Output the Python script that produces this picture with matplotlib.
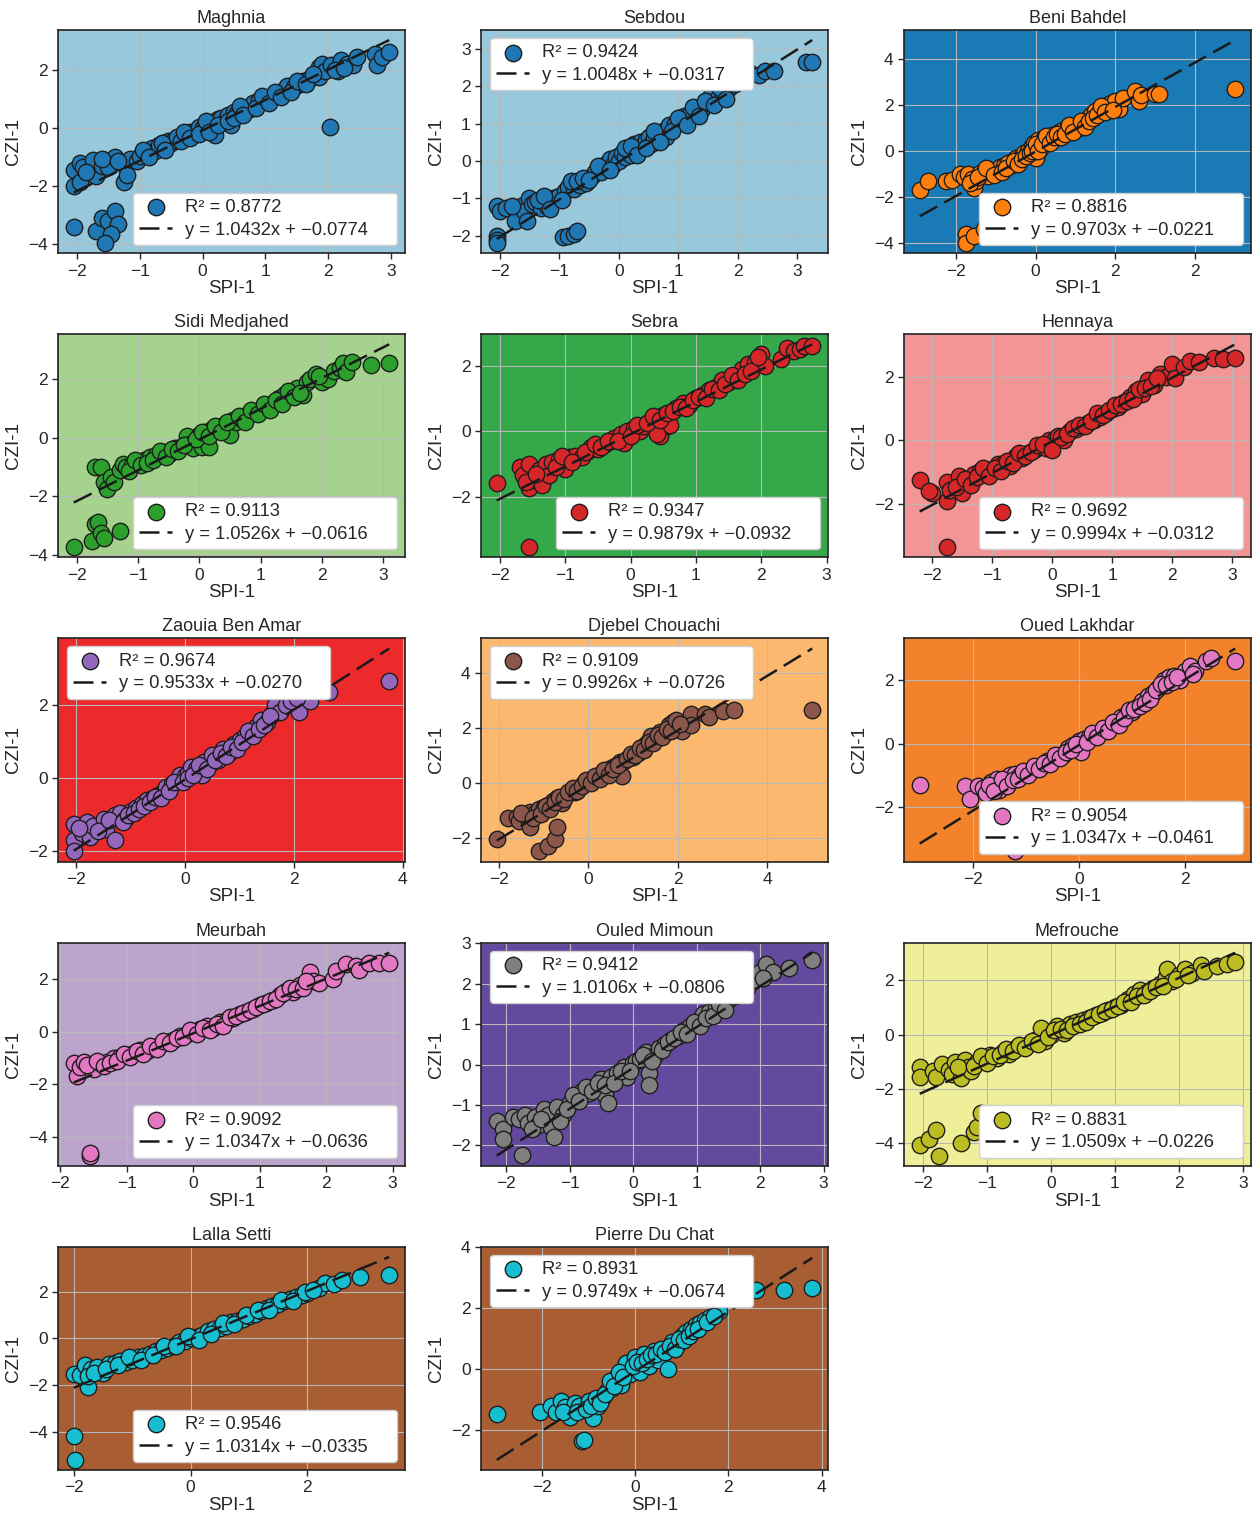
import numpy as np
import matplotlib
matplotlib.use("Agg")
import matplotlib.pyplot as plt

plt.rcParams["font.family"] = ["Liberation Sans", "DejaVu Sans"]
plt.rcParams["text.color"] = ".15"
plt.rcParams["axes.labelcolor"] = ".15"
plt.rcParams["xtick.color"] = ".15"
plt.rcParams["ytick.color"] = ".15"

# (SPI-1, CZI-1) pairs
maghnia = [(-2.05, -1.45), (-2.05, -2.0), (-1.95, -1.85), (-1.95, -1.2), (-1.9, -1.35), (-1.75, -1.1),
           (-1.7, -1.65), (-1.6, -1.3), (-1.55, -1.1), (-1.5, -1.35), (-1.4, -1.0), (-1.3, -1.2),
           (-1.25, -1.85), (-1.2, -1.6), (-1.15, -1.05), (-1.05, -1.15), (-1.0, -0.95),
           (-2.05, -3.4), (-1.7, -3.55), (-1.6, -3.1), (-1.5, -3.2), (-1.4, -2.85), (-1.35, -3.3),
           (-1.45, -3.65), (-1.55, -3.95), (2.02, 0.03),
           (-0.9, -0.85), (-0.8, -0.7), (-0.75, -0.8), (-0.7, -0.6), (-0.6, -0.6), (-0.55, -0.45),
           (-0.5, -0.5), (-0.45, -0.4), (-0.4, -0.3), (-0.3, -0.35), (-0.25, -0.2), (-0.2, -0.15),
           (-0.15, -0.25), (-0.1, -0.1), (-0.05, 0.05), (0.0, 0.0), (0.05, 0.1), (0.1, 0.05),
           (0.15, 0.2), (0.2, -0.25), (0.25, 0.3), (0.3, 0.35), (0.35, 0.2), (0.4, 0.45), (0.45, 0.1),
           (0.5, 0.55), (0.55, 0.5), (0.6, 0.6), (0.7, 0.7), (0.75, 0.65), (0.8, 0.85), (0.9, 0.95),
           (1.0, 0.95), (1.1, 1.05), (1.2, 1.2), (1.3, 1.3), (1.35, 1.45), (1.45, 1.4), (1.55, 1.5),
           (1.6, 1.6), (1.7, 1.7), (1.85, 2.1), (1.9, 2.2), (1.85, 1.75), (1.95, 1.95), (2.05, 2.15),
           (2.15, 1.95), (2.2, 2.35), (2.3, 2.2), (2.4, 2.15), (2.45, 2.45), (2.75, 2.55), (2.78, 2.15),
           (2.85, 2.45), (2.97, 2.6),
           (-0.95, -0.75), (-0.85, -1.0), (-0.65, -0.5), (-0.6, -0.75), (-0.35, -0.45), (-0.3, -0.15),
           (-0.2, -0.35), (-0.05, -0.2), (0.05, 0.25), (0.1, -0.15), (0.25, 0.1), (0.4, 0.25),
           (0.5, 0.35), (0.6, 0.75), (0.65, 0.45), (0.85, 0.7), (0.95, 1.1), (1.05, 0.85), (1.15, 1.25),
           (1.25, 1.05), (1.4, 1.25), (1.5, 1.6), (1.65, 1.5), (1.75, 1.85), (2.1, 2.0), (2.25, 2.05),
           (-1.6, -1.05), (-1.85, -1.5), (-1.35, -1.15)]

sebdou = [(-2.05, -1.2), (-2.0, -1.35), (-1.9, -1.25), (-1.75, -1.3), (-1.75, -1.6), (-1.65, -1.2),
          (-1.6, -1.35), (-1.55, -1.6), (-1.5, -1.0), (-1.45, -1.15), (-1.4, -1.1), (-1.3, -1.25),
          (-1.2, -1.2), (-1.1, -1.0), (-1.0, -0.95), (-0.9, -0.8), (-0.85, -0.7), (-0.75, -0.75),
          (-0.65, -0.65), (-0.55, -0.6), (-2.05, -2.0), (-2.05, -2.12), (-2.05, -2.2), (-0.93, -2.05),
          (-0.85, -2.0), (-0.75, -1.95), (-0.7, -1.88), (-0.45, -0.4), (-0.4, -0.3), (-0.3, -0.3),
          (-0.25, -0.15), (-0.2, -0.05), (-0.15, 0.05), (-0.1, -0.1), (-0.05, 0.1), (0.0, 0.0),
          (0.05, 0.2), (0.1, 0.1), (0.15, 0.3), (0.2, 0.15), (0.25, 0.45), (0.3, 0.3), (0.35, 0.5),
          (0.4, 0.4), (0.45, 0.55), (0.5, 0.65), (0.55, 0.45), (0.6, 0.6), (0.7, 0.7), (0.75, 0.8),
          (0.8, 0.65), (0.85, 0.95), (0.95, 1.0), (1.05, 1.05), (1.1, 1.2), (1.2, 1.25), (1.3, 1.35),
          (1.4, 1.4), (1.5, 1.55), (1.55, 1.75), (1.65, 1.65), (1.75, 1.8), (1.85, 1.95), (1.95, 2.05),
          (2.1, 2.2), (2.2, 2.35), (2.35, 2.3), (2.45, 2.4), (2.6, 2.4), (3.15, 2.65), (3.25, 2.65),
          (-1.35, -1.05), (-1.25, -0.95), (-1.15, -1.3), (-0.95, -1.05), (-0.8, -0.55), (-0.7, -0.55),
          (-0.6, -0.45), (-0.5, -0.5), (-0.35, -0.15), (-0.15, -0.25), (0.1, 0.35), (0.2, 0.4),
          (0.3, 0.15), (0.45, 0.35), (0.6, 0.8), (0.7, 0.5), (0.9, 0.8), (1.0, 1.15), (1.15, 0.95),
          (1.25, 1.45), (1.35, 1.2), (1.45, 1.6), (1.6, 1.5), (1.7, 1.95), (1.8, 1.65), (-1.8, -1.2)]

beni_bahdel = [(-2.9, -1.7), (-2.7, -1.3), (-2.25, -1.3), (-2.1, -1.25), (-1.9, -1.0), (-1.8, -1.15),
               (-1.7, -1.0), (-1.6, -1.2), (-1.55, -1.6), (-1.5, -1.3), (-1.4, -0.95), (-1.3, -0.9),
               (-1.2, -1.1), (-1.1, -0.85), (-1.0, -0.9), (-0.9, -0.7), (-0.8, -0.65), (-0.7, -0.5),
               (-0.6, -0.6), (-0.5, -0.3), (-0.4, -0.3), (-0.3, -0.1), (-0.2, 0.0), (-0.1, 0.2),
               (-0.05, 0.35), (0.0, -0.3), (0.05, 0.5), (0.1, 0.1), (0.2, 0.55), (0.3, 0.45), (0.4, 0.7),
               (0.5, 0.55), (0.6, 0.85), (0.7, 0.9), (0.8, 0.95), (0.9, 1.05), (1.0, 1.1), (1.1, 1.0),
               (1.2, 1.25), (1.3, 1.4), (1.4, 1.55), (1.5, 1.75), (1.6, 1.65), (1.7, 1.85), (1.8, 2.0),
               (1.9, 2.1), (2.0, 2.2), (2.1, 1.85), (2.2, 2.3), (2.5, 2.6), (2.6, 2.2), (2.65, 2.45),
               (3.0, 2.5), (3.1, 2.5), (5.0, 2.7), (-1.75, -3.6), (-1.75, -4.0), (-1.55, -3.7),
               (-1.3, -3.4), (-1.0, -3.2),
               (-1.65, -1.4), (-1.45, -1.15), (-1.25, -0.75), (-1.05, -1.05), (-0.85, -0.9), (-0.75, -0.75),
               (-0.55, -0.45), (-0.45, -0.55), (-0.35, -0.35), (-0.25, -0.2), (-0.15, -0.1), (-0.1, 0.0),
               (0.0, 0.3), (0.05, 0.0), (0.15, 0.3), (0.25, 0.65), (0.35, 0.35), (0.45, 0.6), (0.55, 0.75),
               (0.65, 0.6), (0.75, 0.75), (0.85, 1.15), (0.95, 0.85), (1.15, 1.3), (1.25, 1.05),
               (1.35, 1.3), (1.45, 1.45), (1.55, 1.55), (1.65, 1.95), (1.75, 1.7), (1.95, 1.8)]

sidi_medjahed = [(-1.7, -1.0), (-1.6, -1.0), (-1.55, -1.5), (-1.5, -1.75), (-1.45, -1.35), (-1.4, -1.5),
                 (-1.3, -1.1), (-1.25, -0.9), (-1.2, -1.0), (-1.1, -0.95), (-1.0, -0.85), (-0.9, -0.75),
                 (-0.8, -0.65), (-0.7, -0.6), (-0.6, -0.5), (-0.5, -0.55), (-0.4, -0.35), (-0.3, -0.3),
                 (-0.2, 0.05), (-0.15, -0.2), (-0.1, -0.35), (0.0, 0.1), (0.05, -0.3), (0.1, 0.2),
                 (0.15, -0.3), (0.2, 0.3), (0.3, 0.35), (0.4, 0.45), (0.5, 0.1), (0.55, 0.6), (0.6, 0.55),
                 (0.7, 0.65), (0.8, 0.8), (0.9, 0.85), (1.0, 1.0), (1.1, 1.1), (1.2, 1.2), (1.3, 1.35),
                 (1.4, 1.5), (1.5, 1.55), (1.6, 1.7), (1.7, 1.45), (1.75, 1.9), (1.8, 2.0), (1.9, 2.2),
                 (2.0, 1.9), (2.1, 2.0), (2.2, 2.3), (2.3, 2.4), (2.35, 2.55), (2.4, 2.25), (2.5, 2.6),
                 (2.8, 2.5), (3.1, 2.55), (-2.05, -3.75), (-1.75, -3.55), (-1.7, -2.95), (-1.65, -2.9),
                 (-1.6, -3.25), (-1.55, -3.45), (-1.3, -3.2),
                 (-1.15, -1.15), (-1.05, -0.75), (-0.95, -0.95), (-0.85, -0.85), (-0.75, -0.75),
                 (-0.65, -0.45), (-0.55, -0.65), (-0.45, -0.4), (-0.35, -0.45), (-0.25, -0.25),
                 (-0.05, -0.05), (0.05, 0.2), (0.15, 0.05), (0.25, 0.4), (0.35, 0.2), (0.45, 0.55),
                 (0.65, 0.75), (0.75, 0.55), (0.85, 0.95), (0.95, 0.8), (1.05, 1.15), (1.15, 0.95),
                 (1.25, 1.3), (1.35, 1.15), (1.45, 1.6), (1.55, 1.4), (1.65, 1.55), (1.95, 2.1)]

sebra = [(-2.05, -1.6), (-1.55, -3.55), (-1.7, -1.1), (-1.65, -1.35), (-1.55, -1.0), (-1.55, -1.75),
         (-1.5, -1.5), (-1.4, -1.2), (-1.35, -1.65), (-1.3, -1.0), (-1.25, -1.35), (-1.2, -0.95),
         (-1.1, -0.85), (-1.0, -1.15), (-0.95, -0.8), (-0.85, -0.75), (-0.75, -0.8), (-0.65, -0.6),
         (-0.6, -0.5), (-0.5, -0.55), (-0.4, -0.4), (-0.3, -0.3), (-0.25, -0.2), (-0.15, -0.1),
         (-0.1, -0.35), (-0.05, 0.0), (0.05, 0.1), (0.1, 0.05), (0.15, 0.0), (0.2, 0.15), (0.3, 0.3),
         (0.4, 0.4), (0.45, -0.15), (0.5, 0.5), (0.55, 0.15), (0.6, 0.2), (0.7, 0.7), (0.8, 0.85),
         (0.9, 0.8), (1.0, 1.0), (1.1, 1.1), (1.2, 1.25), (1.3, 1.35), (1.4, 1.55), (1.5, 1.5),
         (1.6, 1.65), (1.7, 1.9), (1.8, 2.05), (1.9, 2.1), (2.0, 2.35), (2.05, 2.0), (2.3, 2.2),
         (2.4, 2.55), (2.5, 2.45), (2.6, 2.5), (2.65, 2.6), (2.78, 2.6), (0.4, -0.1),
         (-1.6, -1.55), (-1.45, -1.3), (-1.15, -1.1), (-1.05, -0.75), (-0.9, -0.95), (-0.7, -0.65),
         (-0.55, -0.4), (-0.45, -0.5), (-0.35, -0.3), (-0.2, -0.3), (0.0, -0.15), (0.1, 0.2),
         (0.25, 0.25), (0.35, 0.45), (0.45, 0.35), (0.55, 0.55), (0.65, 0.6), (0.75, 0.75),
         (0.85, 0.7), (0.95, 0.95), (1.05, 1.05), (1.15, 1.0), (1.25, 1.3), (1.35, 1.25),
         (1.45, 1.45), (1.55, 1.7), (1.65, 1.55), (1.75, 1.75), (1.85, 1.85), (1.95, 2.25)]

hennaya = [(-2.2, -1.25), (-2.0, -1.65), (-2.05, -1.6), (-1.75, -1.3), (-1.75, -1.9), (-1.7, -1.55),
           (-1.55, -1.1), (-1.5, -1.65), (-1.4, -1.3), (-1.3, -1.05), (-1.2, -0.95), (-1.1, -1.0),
           (-1.0, -0.9), (-0.9, -0.75), (-0.8, -0.7), (-0.7, -0.8), (-0.6, -0.5), (-0.5, -0.55),
           (-0.4, -0.4), (-0.3, -0.3), (-0.2, -0.2), (-0.1, -0.25), (-0.05, 0.0), (0.05, 0.05),
           (0.1, 0.15), (0.2, 0.0), (0.3, 0.3), (0.4, 0.35), (0.5, 0.45), (0.6, 0.55), (0.7, 0.65),
           (0.8, 0.75), (0.9, 0.85), (1.0, 1.0), (1.1, 1.05), (1.2, 1.2), (1.3, 1.35), (1.4, 1.55),
           (1.5, 1.45), (1.6, 1.9), (1.7, 1.75), (1.8, 2.1), (1.9, 2.0), (2.0, 2.4), (2.05, 1.95),
           (2.2, 2.3), (2.3, 2.5), (2.45, 2.45), (2.7, 2.6), (2.85, 2.55), (3.05, 2.6), (-1.75, -3.35),
           (-1.6, -1.45), (-1.45, -1.2), (-1.35, -1.4), (-1.25, -1.15), (-1.15, -0.85), (-1.05, -1.1),
           (-0.95, -0.85), (-0.85, -0.95), (-0.75, -0.65), (-0.65, -0.7), (-0.55, -0.4), (-0.45, -0.5),
           (-0.35, -0.35), (-0.25, -0.15), (-0.15, -0.1), (0.0, -0.3), (0.15, 0.1), (0.25, 0.2),
           (0.35, 0.4), (0.45, 0.5), (0.55, 0.45), (0.65, 0.6), (0.75, 0.85), (0.85, 0.8),
           (0.95, 0.95), (1.05, 1.1), (1.15, 1.15), (1.25, 1.25), (1.35, 1.3), (1.45, 1.6),
           (1.55, 1.65), (1.65, 1.7), (1.75, 1.95)]

zaouia_ben_amar = [(-2.05, -1.25), (-2.05, -1.7), (-2.05, -2.0), (-1.9, -1.5), (-1.8, -1.2), (-1.75, -1.6),
                   (-1.7, -1.3), (-1.5, -1.1), (-1.45, -1.4), (-1.3, -1.0), (-1.3, -1.7), (-1.2, -0.95),
                   (-1.1, -1.1), (-1.0, -0.9), (-0.9, -0.8), (-0.8, -0.7), (-0.7, -0.6), (-0.6, -0.55),
                   (-0.5, -0.45), (-0.4, -0.35), (-0.35, -0.25), (-0.25, -0.15), (-0.15, -0.05),
                   (-0.1, 0.1), (0.0, 0.05), (0.05, 0.15), (0.1, 0.3), (0.2, 0.25), (0.3, 0.1),
                   (0.35, 0.45), (0.45, 0.4), (0.5, 0.65), (0.6, 0.5), (0.7, 0.8), (0.8, 0.7), (0.9, 0.95),
                   (1.0, 1.05), (1.1, 1.15), (1.2, 1.2), (1.3, 1.4), (1.4, 1.6), (1.5, 1.55), (1.6, 1.75),
                   (1.65, 2.0), (1.75, 1.8), (1.85, 2.0), (2.1, 1.8), (2.3, 2.1), (2.65, 2.35), (3.75, 2.65),
                   (-1.95, -1.35), (-1.6, -1.45), (-1.4, -1.15), (-1.15, -1.2), (-1.05, -1.0),
                   (-0.95, -0.95), (-0.85, -0.85), (-0.75, -0.75), (-0.65, -0.65), (-0.55, -0.5),
                   (-0.45, -0.55), (-0.3, -0.35), (-0.2, -0.1), (-0.05, -0.1), (0.05, 0.0), (0.15, 0.1),
                   (0.25, 0.35), (0.4, 0.25), (0.55, 0.5), (0.65, 0.7), (0.75, 0.6), (0.85, 0.85),
                   (0.95, 0.8), (1.05, 1.0), (1.15, 1.3), (1.25, 1.15), (1.35, 1.35), (1.45, 1.45),
                   (1.55, 1.7), (1.95, 2.1), (2.05, 2.2)]

djebel_chouachi = [(-2.05, -2.05), (-1.8, -1.3), (-1.6, -1.25), (-1.55, -1.4), (-1.4, -1.2), (-1.3, -1.05),
                   (-1.3, -1.6), (-1.2, -1.1), (-1.1, -0.95), (-1.0, -0.9), (-0.9, -0.8), (-0.8, -0.65),
                   (-0.7, -0.55), (-0.6, -0.75), (-0.5, -0.45), (-0.4, -0.3), (-0.3, -0.35), (-0.2, -0.15),
                   (-0.1, 0.0), (0.0, 0.05), (0.1, 0.1), (0.2, 0.2), (0.3, 0.35), (0.4, 0.4), (0.5, 0.55),
                   (0.6, 0.6), (0.7, 0.75), (0.75, 0.25), (0.8, 0.8), (0.9, 0.9), (1.0, 0.95), (1.1, 1.1),
                   (1.2, 1.3), (1.3, 1.45), (1.4, 1.7), (1.5, 1.6), (1.6, 1.85), (1.7, 1.8), (1.8, 2.1),
                   (1.9, 2.2), (2.0, 2.0), (2.1, 1.9), (2.3, 2.5), (2.3, 2.1), (2.6, 2.5), (2.7, 2.4),
                   (3.0, 2.6), (3.25, 2.65), (5.0, 2.65), (-1.1, -2.5), (-0.9, -2.3), (-0.75, -2.05),
                   (-0.7, -1.6),
                   (-1.5, -1.1), (-1.25, -1.3), (-1.05, -1.15), (-0.95, -0.85), (-0.85, -0.95),
                   (-0.75, -0.7), (-0.65, -0.5), (-0.55, -0.6), (-0.45, -0.35), (-0.35, -0.2),
                   (-0.25, -0.3), (-0.15, -0.1), (-0.05, 0.1), (0.05, 0.0), (0.15, 0.25), (0.25, 0.15),
                   (0.35, 0.45), (0.45, 0.3), (0.55, 0.5), (0.65, 0.65), (0.85, 0.85), (0.95, 1.05),
                   (1.05, 1.0), (1.15, 1.25), (1.25, 1.2), (1.35, 1.5), (1.45, 1.45), (1.55, 1.75),
                   (1.65, 1.65), (1.75, 1.95), (1.85, 1.9), (1.95, 2.3), (2.05, 2.15)]

oued_lakhdar = [(-3.0, -1.3), (-2.15, -1.35), (-2.05, -1.75), (-1.9, -1.35), (-1.8, -1.4), (-1.75, -1.55),
                (-1.65, -1.2), (-1.55, -1.1), (-1.5, -1.45), (-1.4, -1.25), (-1.3, -1.0), (-1.2, -0.95),
                (-1.1, -1.0), (-1.0, -0.9), (-0.9, -0.85), (-0.8, -0.75), (-0.7, -0.7), (-0.6, -0.55),
                (-0.5, -0.5), (-0.4, -0.4), (-0.3, -0.35), (-0.2, -0.15), (-0.1, -0.05), (0.0, 0.1),
                (0.05, -0.25), (0.1, 0.15), (0.2, 0.2), (0.3, 0.3), (0.4, 0.35), (0.5, 0.45), (0.6, 0.55),
                (0.7, 0.65), (0.8, 0.85), (0.9, 0.9), (1.0, 1.0), (1.1, 1.15), (1.2, 1.35), (1.3, 1.5),
                (1.4, 1.6), (1.5, 1.75), (1.6, 2.0), (1.7, 2.1), (1.8, 2.15), (1.9, 2.0), (2.0, 2.3),
                (2.1, 2.45), (2.2, 2.3), (2.4, 2.6), (2.5, 2.7), (2.95, 2.6), (-1.2, -3.4),
                (-1.7, -1.3), (-1.6, -1.5), (-1.45, -1.1), (-1.35, -1.35), (-1.25, -1.15), (-1.15, -1.1),
                (-1.05, -0.85), (-0.95, -1.0), (-0.85, -0.7), (-0.75, -0.8), (-0.65, -0.6), (-0.55, -0.65),
                (-0.45, -0.35), (-0.35, -0.45), (-0.25, -0.25), (-0.15, -0.2), (-0.05, 0.0), (0.15, 0.05),
                (0.25, 0.35), (0.35, 0.2), (0.45, 0.5), (0.55, 0.4), (0.65, 0.7), (0.75, 0.6),
                (0.85, 0.8), (0.95, 1.05), (1.05, 1.1), (1.15, 1.2), (1.25, 1.3), (1.35, 1.4),
                (1.45, 1.7), (1.55, 1.9), (1.65, 1.85), (1.75, 1.95), (1.85, 2.1), (2.15, 2.2)]

meurbah = [(-1.8, -1.2), (-1.75, -1.7), (-1.7, -1.35), (-1.65, -1.15), (-1.5, -1.4), (-1.4, -1.2),
           (-1.3, -1.15), (-1.2, -1.0), (-1.1, -0.95), (-1.0, -0.9), (-0.9, -0.8), (-0.8, -0.7),
           (-0.7, -0.75), (-0.6, -0.6), (-0.5, -0.5), (-0.4, -0.4), (-0.3, -0.3), (-0.2, -0.15),
           (-0.1, -0.1), (0.0, 0.0), (0.1, 0.1), (0.2, 0.2), (0.3, 0.15), (0.4, 0.35), (0.5, 0.45),
           (0.6, 0.5), (0.7, 0.65), (0.8, 0.75), (0.9, 0.85), (1.0, 1.0), (1.1, 1.1), (1.2, 1.2),
           (1.3, 1.4), (1.4, 1.55), (1.5, 1.5), (1.6, 1.75), (1.75, 2.25), (1.8, 1.9), (1.9, 1.85),
           (2.1, 2.0), (2.15, 2.3), (2.3, 2.55), (2.45, 2.5), (2.5, 2.35), (2.65, 2.6), (2.8, 2.6),
           (2.95, 2.6), (-1.55, -4.7), (-1.55, -4.6),
           (-1.6, -1.25), (-1.45, -1.1), (-1.35, -1.3), (-1.25, -1.2), (-1.15, -1.1), (-1.05, -0.85),
           (-0.95, -0.95), (-0.85, -0.75), (-0.75, -0.85), (-0.65, -0.55), (-0.55, -0.65),
           (-0.45, -0.35), (-0.35, -0.45), (-0.25, -0.25), (-0.15, -0.2), (-0.05, 0.05), (0.05, -0.1),
           (0.15, 0.15), (0.25, 0.05), (0.35, 0.3), (0.45, 0.2), (0.55, 0.55), (0.65, 0.6),
           (0.75, 0.7), (0.85, 0.8), (0.95, 0.95), (1.05, 1.05), (1.15, 1.15), (1.25, 1.25),
           (1.35, 1.45), (1.45, 1.65), (1.55, 1.6), (1.65, 1.65), (1.7, 1.9)]

ouled_mimoun = [(-2.15, -1.4), (-2.05, -1.6), (-2.05, -1.85), (-1.9, -1.3), (-1.8, -1.35), (-1.7, -1.25),
                (-1.65, -1.45), (-1.55, -1.3), (-1.5, -1.5), (-1.4, -1.1), (-1.35, -1.25), (-1.3, -1.55),
                (-1.25, -1.8), (-1.2, -1.05), (-1.1, -1.25), (-1.0, -0.95), (-0.9, -0.85), (-0.8, -0.65),
                (-0.7, -0.7), (-0.6, -0.55), (-0.5, -0.35), (-0.45, -0.75), (-0.4, -0.95), (-0.35, -0.3),
                (-0.25, -0.2), (-0.15, -0.05), (-0.1, -0.3), (0.0, 0.05), (0.05, 0.1), (0.1, 0.15),
                (0.2, 0.3), (0.25, -0.2), (0.25, -0.5), (0.35, 0.25), (0.4, 0.4), (0.5, 0.5), (0.6, 0.6),
                (0.7, 0.7), (0.8, 0.85), (0.9, 0.95), (1.0, 1.0), (1.1, 1.25), (1.2, 1.3), (1.3, 1.4),
                (1.4, 1.5), (1.5, 1.6), (1.6, 1.7), (1.8, 1.9), (1.9, 2.1), (2.0, 2.3), (2.1, 2.5),
                (2.2, 2.3), (2.45, 2.4), (2.82, 2.6), (-1.75, -2.25),
                (-1.6, -1.6), (-1.45, -1.35), (-1.15, -1.4), (-1.05, -1.1), (-0.95, -0.75),
                (-0.85, -0.9), (-0.75, -0.55), (-0.65, -0.65), (-0.55, -0.45), (-0.45, -0.5),
                (-0.3, -0.45), (-0.2, -0.15), (-0.05, -0.15), (0.15, 0.25), (0.3, 0.1), (0.45, 0.35),
                (0.55, 0.55), (0.65, 0.65), (0.75, 0.8), (0.85, 0.75), (0.95, 1.05), (1.05, 0.95),
                (1.15, 1.15), (1.25, 1.2), (1.35, 1.5), (1.45, 1.35), (1.55, 1.7), (1.7, 1.8),
                (2.05, 2.15)]

mefrouche = [(-2.05, -1.2), (-2.05, -1.55), (-1.85, -1.35), (-1.8, -1.55), (-1.7, -1.1), (-1.6, -1.3),
             (-1.55, -1.45), (-1.5, -1.0), (-1.4, -1.6), (-1.35, -0.95), (-1.3, -1.2), (-1.25, -1.35),
             (-1.15, -1.0), (-1.05, -0.9), (-0.95, -0.75), (-0.85, -0.85), (-0.75, -0.65), (-0.65, -0.7),
             (-0.55, -0.5), (-0.45, -0.45), (-0.35, -0.35), (-0.25, -0.2), (-0.15, 0.25), (-0.1, -0.25),
             (0.0, 0.0), (0.1, 0.3), (0.2, 0.05), (0.3, 0.4), (0.4, 0.45), (0.5, 0.55), (0.6, 0.6),
             (0.7, 0.7), (0.8, 0.8), (0.9, 0.9), (1.0, 1.0), (1.1, 1.1), (1.2, 1.3), (1.3, 1.5),
             (1.4, 1.65), (1.5, 1.55), (1.6, 1.7), (1.7, 1.85), (1.8, 2.1), (1.82, 2.4), (1.9, 1.95),
             (2.0, 2.2), (2.1, 2.4), (2.2, 2.25), (2.35, 2.55), (2.4, 2.35), (2.6, 2.5), (2.75, 2.6),
             (2.88, 2.65), (-2.05, -4.05), (-1.9, -3.85), (-1.8, -3.5), (-1.75, -4.45), (-1.4, -4.0),
             (-1.2, -3.6), (-1.15, -3.4), (-1.1, -2.9),
             (-1.45, -1.2), (-1.2, -1.15), (-1.1, -0.8), (-1.0, -1.05), (-0.9, -0.8), (-0.8, -0.75),
             (-0.7, -0.55), (-0.6, -0.6), (-0.5, -0.4), (-0.4, -0.5), (-0.3, -0.25), (-0.2, -0.35),
             (-0.05, -0.1), (0.05, 0.15), (0.15, 0.2), (0.25, 0.15), (0.35, 0.3), (0.45, 0.4),
             (0.55, 0.45), (0.65, 0.65), (0.75, 0.75), (0.85, 0.85), (0.95, 0.95), (1.05, 1.05),
             (1.15, 1.2), (1.25, 1.2), (1.35, 1.4), (1.45, 1.45), (1.55, 1.6), (1.65, 1.75),
             (1.75, 1.8), (1.95, 2.05), (2.15, 2.2)]

lalla_setti = [(-2.0, -1.5), (-2.0, -4.15), (-1.98, -5.17), (-1.9, -1.55), (-1.8, -1.15), (-1.75, -2.05),
               (-1.7, -1.3), (-1.6, -1.2), (-1.5, -1.45), (-1.4, -1.1), (-1.3, -1.05), (-1.2, -0.95),
               (-1.1, -1.0), (-1.0, -0.9), (-0.9, -0.8), (-0.8, -0.75), (-0.7, -0.65), (-0.6, -0.55),
               (-0.5, -0.5), (-0.4, -0.4), (-0.3, -0.3), (-0.2, -0.15), (-0.1, -0.1), (0.0, 0.0),
               (0.1, 0.05), (0.2, 0.15), (0.3, 0.3), (0.4, 0.4), (0.5, 0.45), (0.6, 0.55), (0.7, 0.7),
               (0.8, 0.75), (0.9, 0.85), (1.0, 0.95), (1.1, 1.05), (1.2, 1.15), (1.3, 1.3), (1.4, 1.4),
               (1.5, 1.45), (1.6, 1.6), (1.7, 1.7), (1.8, 1.75), (1.9, 1.85), (2.0, 1.95), (2.2, 2.15),
               (2.3, 2.35), (2.45, 2.3), (2.6, 2.5), (2.9, 2.6), (3.4, 2.7),
               (-1.75, -1.6), (-1.65, -1.45), (-1.45, -1.3), (-1.25, -1.15), (-1.05, -0.8),
               (-0.85, -0.9), (-0.65, -0.7), (-0.45, -0.3), (-0.25, -0.3), (-0.05, 0.1), (0.15, -0.05),
               (0.35, 0.2), (0.55, 0.65), (0.75, 0.6), (0.95, 1.0), (1.15, 1.2), (1.35, 1.2),
               (1.55, 1.65), (1.75, 1.6), (1.95, 2.0), (2.1, 2.05)]

pierre_du_chat = [(-2.97, -1.45), (-2.05, -1.4), (-1.8, -1.2), (-1.7, -1.4), (-1.6, -1.05), (-1.5, -1.25),
                  (-1.4, -1.55), (-1.3, -1.1), (-1.2, -1.2), (-1.15, -2.35), (-1.1, -2.3), (-1.0, -1.05),
                  (-0.9, -1.6), (-0.8, -1.2), (-0.7, -0.9), (-0.6, -0.7), (-0.5, -0.6), (-0.4, -0.3),
                  (-0.3, -0.5), (-0.2, 0.2), (-0.1, -0.15), (0.0, 0.4), (0.1, -0.1), (0.2, 0.5), (0.3, 0.1),
                  (0.4, 0.6), (0.5, 0.3), (0.6, 0.6), (0.7, 0.0), (0.8, 0.9), (0.9, 0.8), (1.0, 1.1),
                  (1.1, 1.2), (1.2, 1.3), (1.3, 1.45), (1.4, 1.5), (1.5, 1.6), (1.6, 1.7), (1.8, 1.9),
                  (2.6, 2.6), (3.2, 2.6), (3.8, 2.65),
                  (-1.55, -1.4), (-1.25, -1.4), (-1.05, -1.3), (-0.95, -1.2), (-0.85, -0.95),
                  (-0.75, -1.1), (-0.65, -0.8), (-0.55, -0.4), (-0.45, -0.55), (-0.35, -0.1),
                  (-0.25, -0.25), (-0.05, 0.1), (0.05, 0.25), (0.15, 0.2), (0.25, 0.35), (0.35, 0.45),
                  (0.45, 0.5), (0.55, 0.65), (0.65, 0.55), (0.75, 0.75), (0.85, 0.65), (0.95, 1.0),
                  (1.05, 0.95), (1.15, 1.1), (1.25, 1.25), (1.35, 1.3), (1.55, 1.55), (1.7, 1.75)]

stations = ["Maghnia", "Sebdou", "Beni Bahdel", "Sidi Medjahed", "Sebra", "Hennaya",
            "Zaouia Ben Amar", "Djebel Chouachi", "Oued Lakhdar", "Meurbah", "Ouled Mimoun",
            "Mefrouche", "Lalla Setti", "Pierre Du Chat"]
points = [maghnia, sebdou, beni_bahdel, sidi_medjahed, sebra, hennaya, zaouia_ben_amar,
          djebel_chouachi, oued_lakhdar, meurbah, ouled_mimoun, mefrouche, lalla_setti, pierre_du_chat]
r2 = [0.8772, 0.9424, 0.8816, 0.9113, 0.9347, 0.9692, 0.9674, 0.9109, 0.9054, 0.9092, 0.9412,
      0.8831, 0.9546, 0.8931]
slopes = [1.0432, 1.0048, 0.9703, 1.0526, 0.9879, 0.9994, 0.9533, 0.9926, 1.0347, 1.0347, 1.0106,
          1.0509, 1.0314, 0.9749]
intercepts = [-0.0774, -0.0317, -0.0221, -0.0616, -0.0932, -0.0312, -0.0270, -0.0726, -0.0461,
              -0.0636, -0.0806, -0.0226, -0.0335, -0.0674]

xticks = [[-2, -1, 0, 1, 2, 3], [-2, -1, 0, 1, 2, 3], [-2, 0, 2, 4], [-2, -1, 0, 1, 2, 3],
          [-2, -1, 0, 1, 2, 3], [-2, -1, 0, 1, 2, 3], [-2, 0, 2, 4], [-2, 0, 2, 4], [-2, 0, 2],
          [-2, -1, 0, 1, 2, 3], [-2, -1, 0, 1, 2, 3], [-2, -1, 0, 1, 2, 3], [-2, 0, 2], [-2, 0, 2, 4]]
yticks = [[-4, -2, 0, 2], [-2, -1, 0, 1, 2, 3], [-4, -2, 0, 2, 4], [-4, -2, 0, 2], [-2, 0, 2],
          [-2, 0, 2], [-2, 0, 2], [-2, 0, 2, 4], [-2, 0, 2], [-4, -2, 0, 2], [-2, -1, 0, 1, 2, 3],
          [-4, -2, 0, 2], [-4, -2, 0, 2], [-2, 0, 2, 4]]
legend_loc = ["lower right", "upper left", "lower right", "lower right", "lower right", "lower right",
              "upper left", "upper left", "lower right", "lower right", "upper left", "lower right",
              "lower right", "upper left"]

# panel backgrounds (Paired-like, as they appear) and dot colours (tab10-like)
bg_colors = ["#97c8dc", "#97c8dc", "#1a7ab5", "#a5d38e", "#35a84a", "#f39595", "#ec292b",
             "#fbb86e", "#f4822b", "#bca4cc", "#644a9e", "#f0ef99", "#a95d33", "#a95d33"]
dot_colors = plt.cm.tab10(np.linspace(0, 1, len(stations)))

fig, axes = plt.subplots(5, 3, figsize=(12.58, 15.2), dpi=100)
fig.subplots_adjust(left=0.0461, right=0.9944, bottom=0.0329, top=0.9803, wspace=0.219, hspace=0.363)

def fmt(v):
    return f"{v:.4f}".replace("-", "\u2212")

for i, ax in enumerate(axes.flat):
    if i >= len(stations):
        ax.axis("off")
        continue
    spi = np.array([p[0] for p in points[i]])
    czi = np.array([p[1] for p in points[i]])
    ax.set_facecolor(bg_colors[i])
    ax.grid(True, color="#b8b8b8", lw=0.8)
    ax.set_axisbelow(True)
    sc = ax.scatter(spi, czi, s=140, color=dot_colors[i], edgecolors="#1e1e1e", linewidths=1.0,
                    zorder=3, label=f"R\u00b2 = {r2[i]:.4f}")
    xs = np.array([spi.min(), spi.max()])
    ln, = ax.plot(xs, slopes[i] * xs + intercepts[i], color="#1a1a1a", lw=1.8, ls=(0, (8, 3.2)),
                  zorder=4, label=f"y = {slopes[i]:.4f}x + {fmt(intercepts[i])}")
    if legend_loc[i] == "lower right":
        anchor = (0.216, 0.036, 0.761, 0.3)
        loc = "lower left"
    else:
        anchor = (0.026, 0.664, 0.758, 0.3)
        loc = "upper left"
    ax.legend(handles=[sc, ln], loc=loc, bbox_to_anchor=anchor, mode="expand", borderaxespad=0,
              fontsize=13.2, framealpha=1, edgecolor="#d0d0d0", scatterpoints=1,
              labelspacing=0.3, borderpad=0.35, handlelength=1.8, handletextpad=0.7)
    ax.set_xticks(xticks[i])
    ax.set_yticks(yticks[i])
    if stations[i] == "Beni Bahdel":
        ax.set_xticklabels(["\u22122", "0", "2", "2"])
    ax.tick_params(labelsize=12.5, length=4, width=1)
    for s in ax.spines.values():
        s.set_linewidth(1.2)
        s.set_color("#222222")
    ax.set_title(stations[i], fontsize=13, pad=5)
    ax.set_xlabel("SPI-1", fontsize=13.5, labelpad=1)
    ax.set_ylabel("CZI-1", fontsize=13.5, labelpad=4)

fig.savefig("out.png", dpi=100)
